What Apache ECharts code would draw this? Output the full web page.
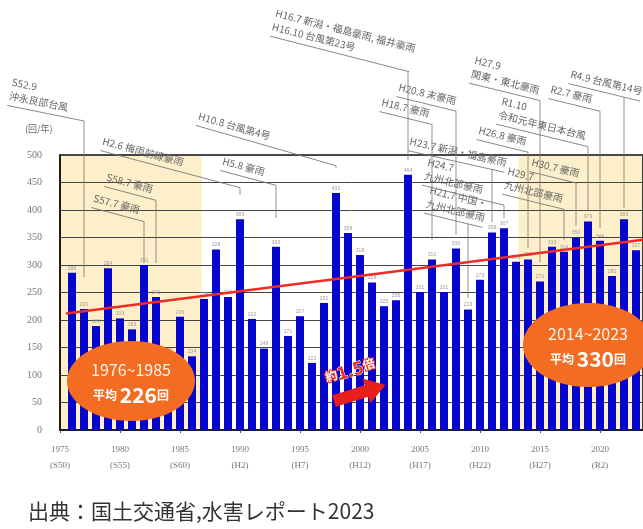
<!DOCTYPE html>
<html><head><meta charset="utf-8">
<script src="https://cdn.jsdelivr.net/npm/echarts@6/dist/echarts.min.js"></script>
<style>html,body{margin:0;padding:0;background:#fff}#c{width:643px;height:529px}</style>
</head><body><div id="c"></div>
<script>
// ---- data ----
const years = [1976,1977,1978,1979,1980,1981,1982,1983,1984,1985,1986,1987,1988,1989,1990,1991,1992,1993,1994,1995,1996,1997,1998,1999,2000,2001,2002,2003,2004,2005,2006,2007,2008,2009,2010,2011,2012,2013,2014,2015,2016,2017,2018,2019,2020,2021,2022,2023];
const counts = [286,220,189,294,203,183,300,242,137,206,134,238,328,242,383,202,148,333,171,207,122,231,431,358,318,268,225,236,464,251,310,251,330,219,273,359,367,306,310,270,333,324,350,379,344,280,383,327];
const tickYears = [1975,1980,1985,1990,1995,2000,2005,2010,2015,2020];
const eraLabels = ['S50','S55','S60','H2','H7','H12','H17','H22','H27','R2'];
const trendYears = [1975.5, 2023.6];
const trendValues = [212, 346];
const periodLabels = ['1976~1985','2014~2023'];
const periodAvg = [226, 330];
const notes = [
  {year:1977, text:['S52.9','沖永良部台風']},
  {year:1982, text:['S57.7 豪雨']},
  {year:1983, text:['S58.7 豪雨']},
  {year:1990, text:['H2.6 梅雨前線豪雨']},
  {year:1993, text:['H5.8 豪雨']},
  {year:1998, text:['H10.8 台風第4号']},
  {year:2004, text:['H16.7 新潟・福島豪雨, 福井豪雨','H16.10 台風第23号']},
  {year:2006, text:['H18.7 豪雨']},
  {year:2008, text:['H20.8 末豪雨']},
  {year:2009, text:['H21.7 中国・','九州北部豪雨']},
  {year:2011, text:['H23.7 新潟・福島豪雨']},
  {year:2012, text:['H24.7','九州北部豪雨']},
  {year:2014, text:['H26.8 豪雨']},
  {year:2015, text:['H27.9','関東・東北豪雨']},
  {year:2017, text:['H29.7','九州北部豪雨']},
  {year:2018, text:['H30.7 豪雨']},
  {year:2019, text:['R1.10','令和元年東日本台風']},
  {year:2020, text:['R2.7 豪雨']},
  {year:2022, text:['R4.9 台風第14号']}
];
// ---- layout (pixels) ----
const noteLayout = [
  {x:13,y:77,tilt:0.2,end:277},
  {x:95,y:193,tilt:0.26,end:263},
  {x:108,y:172,tilt:0.26,end:263},
  {x:104,y:136,tilt:0.26,end:195},
  {x:224,y:156,tilt:0.26,end:218},
  {x:200,y:111,tilt:0.28,end:168},
  {x:277,y:8,tilt:0.25,end:160},
  {x:383,y:97,tilt:0.24,end:240},
  {x:400,y:82,tilt:0.24,end:235},
  {x:431,y:185,tilt:0.24,end:298},
  {x:411,y:136,tilt:0.22,end:222},
  {x:429,y:157,tilt:0.24,end:218},
  {x:480,y:125,tilt:0.24,end:248},
  {x:476,y:55,tilt:0.24,end:262},
  {x:509,y:166,tilt:0.24,end:240},
  {x:533,y:157,tilt:0.24,end:226},
  {x:503,y:96,tilt:0.24,end:210},
  {x:552,y:84,tilt:0.24,end:228},
  {x:572,y:69,tilt:0.24,end:208}
];
const shadeRanges = [[1975,1986.8],[2013.2,2023.6]];
const XMAX = 1975 + 583/12;

const chart = echarts.init(document.getElementById('c'));
chart.setOption({
  animation:false,
  grid:{left:60,right:0,top:155,bottom:99,show:true,borderColor:'#111',borderWidth:1.6,backgroundColor:'transparent'},
  xAxis:{type:'value',min:1975,max:XMAX,interval:5,splitLine:{show:false},
    axisLine:{lineStyle:{color:'#111',width:1.5}},
    axisTick:{show:true,length:3,lineStyle:{color:'#555'}},
    axisLabel:{showMaxLabel:false,color:'#777',fontSize:9,lineHeight:16,fontFamily:'Liberation Serif',margin:12,
      formatter:v=>{const i=tickYears.indexOf(v);return i<0?'':v+'\n('+eraLabels[i]+')';}}},
  yAxis:{type:'value',min:0,max:500,interval:50,
    axisLine:{show:true,lineStyle:{color:'#111',width:1.5}},axisTick:{show:false},
    splitLine:{lineStyle:{color:'#444',width:1}},
    axisLabel:{color:'#777',fontSize:10,fontFamily:'Liberation Serif',margin:18}},
  series:[
    {type:'line',data:[[1975,0]],z:-5,silent:true,showSymbol:false,lineStyle:{opacity:0},
      markArea:{silent:true,z:-5,itemStyle:{color:'#FCEFC9'},data:shadeRanges.map(r=>[{xAxis:r[0]},{xAxis:r[1]}])}},
    {type:'bar',data:years.map((y,i)=>[y,counts[i]]),barWidth:8,itemStyle:{color:'#0505CC'},
      label:{show:true,position:'top',fontSize:5,color:'#999',distance:2}},
    {type:'line',data:trendYears.map((y,i)=>[y,trendValues[i]]),symbol:'none',z:5,
      lineStyle:{color:'#EE2C24',width:2.5}}
  ]
});

const FONT = '"Noto Sans CJK JP", sans-serif';
const NF = 10, NLH = 14;
const ctx = document.createElement('canvas').getContext('2d');
ctx.font = NF + 'px "Noto Sans CJK JP"';
const g = [];
notes.forEach((n,i)=>{
  const L = noteLayout[i];
  const th = L.tilt, c = Math.cos(th), s = Math.sin(th);
  const w = Math.max(...n.text.map(t=>ctx.measureText(t).width));
  const bx = chart.convertToPixel({gridIndex:0},[n.year,0])[0];
  const ul = n.text.length*NLH + 1;
  const U0 = [L.x - ul*s, L.y + ul*c];
  const t = (bx - U0[0])/c;
  const len = Math.max(w, t);
  const knee = [U0[0]+t*c, U0[1]+t*s];
  const children = n.text.map((tx,j)=>({type:'text',x:0,y:j*NLH,
    style:{text:tx,fill:'#666',font:NF+'px '+FONT,align:'left',verticalAlign:'top'}}));
  children.push({type:'line',shape:{x1:0,y1:ul,x2:len,y2:ul},style:{stroke:'#777',lineWidth:0.8}});
  g.push({type:'group',x:L.x,y:L.y,rotation:-th,z:20,children});
  g.push({type:'line',z:20,shape:{x1:knee[0],y1:knee[1],x2:bx,y2:L.end},style:{stroke:'#777',lineWidth:0.8}});
});
// unit
g.push({type:'text',x:25,y:129,z:20,style:{text:'(回/年)',fill:'#666',font:'9px '+FONT,verticalAlign:'middle'}});
// ellipses
const ell = [{cx:131,cy:381,rx:64,ry:40},{cx:588,cy:345,rx:65,ry:42}];
ell.forEach((e,i)=>{
  g.push({type:'ellipse',z:50,shape:e,style:{fill:'#F36C21'}});
  g.push({type:'text',z:51,x:e.cx,y:e.cy-11,style:{text:periodLabels[i],fill:'#FFF4EA',font:'16px '+FONT,align:'center',verticalAlign:'middle'}});
  g.push({type:'text',z:51,x:e.cx,y:e.cy+14,style:{text:'{a|平均 }{b|'+periodAvg[i]+'}{a|回}',align:'center',verticalAlign:'middle',
    rich:{a:{fill:'#fff',fontSize:12,fontWeight:'bold',fontFamily:'Noto Sans CJK JP'},b:{fill:'#fff',fontSize:21,fontWeight:'bold',fontFamily:'Noto Sans CJK JP'}}}});
});
// arrow
g.push({type:'polygon',z:50,x:334,y:401,rotation:0.3,
  shape:{points:[[0,-6],[34,-6],[34,-13],[54,0],[34,13],[34,6],[0,6]]},style:{fill:'#E8201C'}});
g.push({type:'text',z:51,x:350,y:370,rotation:0.3,style:{text:'{w|約}{r|1.5}{w|倍}',align:'center',verticalAlign:'middle',
  rich:{w:{fill:'#fff',stroke:'#E8312A',lineWidth:2,fontSize:12,fontWeight:'bold',fontFamily:'Noto Sans CJK JP'},
        r:{fill:'#E8312A',stroke:'#fff',lineWidth:1,fontSize:18,fontWeight:'bold',fontFamily:'Noto Sans CJK JP'}}}});
// source
g.push({type:'text',x:28,y:511,style:{text:'出典：国土交通省,水害レポート2023',fill:'#333',font:'21px '+FONT,verticalAlign:'middle'}});
chart.setOption({graphic:g});
</script></body></html>
